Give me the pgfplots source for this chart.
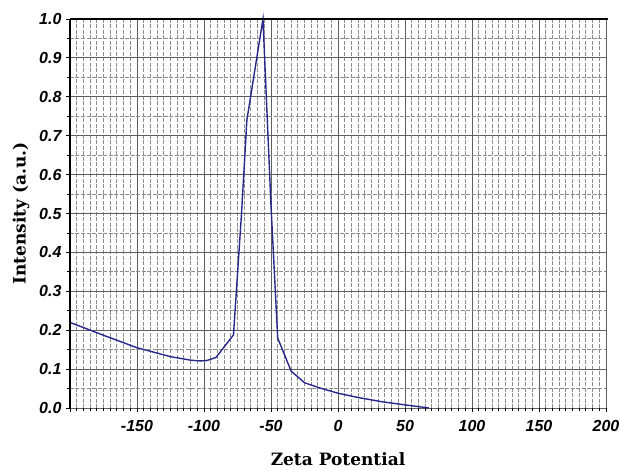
\documentclass[border=0pt]{standalone}
\usepackage{fontspec}
\usepackage{pgfplots}
\pgfplotsset{compat=1.18}
\newfontfamily\tickfont{Liberation Sans}
\newfontfamily\labfont{DejaVu Serif}
\definecolor{curve}{RGB}{40,40,140}
\definecolor{gmaj}{RGB}{95,95,95}
\definecolor{gmin}{RGB}{140,140,140}
\begin{document}
\begin{tikzpicture}[x=1pt,y=1pt]
\path[use as bounding box] (-70,-61) rectangle (553,408);
\begin{axis}[
  at={(0,0)}, anchor=south west,
  scale only axis, width=536pt, height=389pt,
  xmin=-200, xmax=200, ymin=0, ymax=1,
  xtick={-200,-150,...,200},
  xticklabels={,-150,-100,-50,0,50,100,150,200},
  ytick={0,0.1,...,1.0},
  yticklabels={0.0,0.1,0.2,0.3,0.4,0.5,0.6,0.7,0.8,0.9,1.0},
  minor x tick num=9, minor y tick num=1,
  grid=both,
  major grid style={gmaj, line width=1pt},
  minor grid style={gmin, line width=0.9pt, dash pattern=on 4pt off 1.5pt},
  axis line style={draw=none},
  tick align=outside,
  major tick length=4pt, minor tick length=3pt,
  tick style={black, line width=0.9pt},
  xtick pos=bottom, ytick pos=left,
  ticklabel style={font=\tickfont\bfseries\itshape\fontsize{16}{16}\selectfont},
  xticklabel style={yshift=-5pt},
  yticklabel style={xshift=-1pt},
  xlabel={Zeta Potential},
  ylabel={Intensity (a.u.)},
  label style={font=\labfont\bfseries\fontsize{17}{17}\selectfont},
  xlabel style={yshift=-14pt},
  ylabel style={yshift=3pt},
  clip=false,
]
\addplot[curve, line width=1.4pt] coordinates {
(-200,0.220) (-175,0.187) (-150,0.155) (-125,0.132) (-110,0.123) (-103,0.121)
(-98,0.122) (-91,0.130) (-78,0.188) (-72,0.50) (-68,0.74) (-56,1.0)
(-53,0.76) (-50,0.52) (-45,0.18) (-35,0.095) (-25,0.065) (-14,0.052)
(0,0.038) (15,0.027) (33,0.016) (50,0.008) (68,0.0)
};
\draw[black, line width=2pt] (rel axis cs:0,1) -- (rel axis cs:1.003,1);
\draw[black, line width=1.2pt] (rel axis cs:0,0) -- (rel axis cs:0,1);
\end{axis}
\end{tikzpicture}
\end{document}
